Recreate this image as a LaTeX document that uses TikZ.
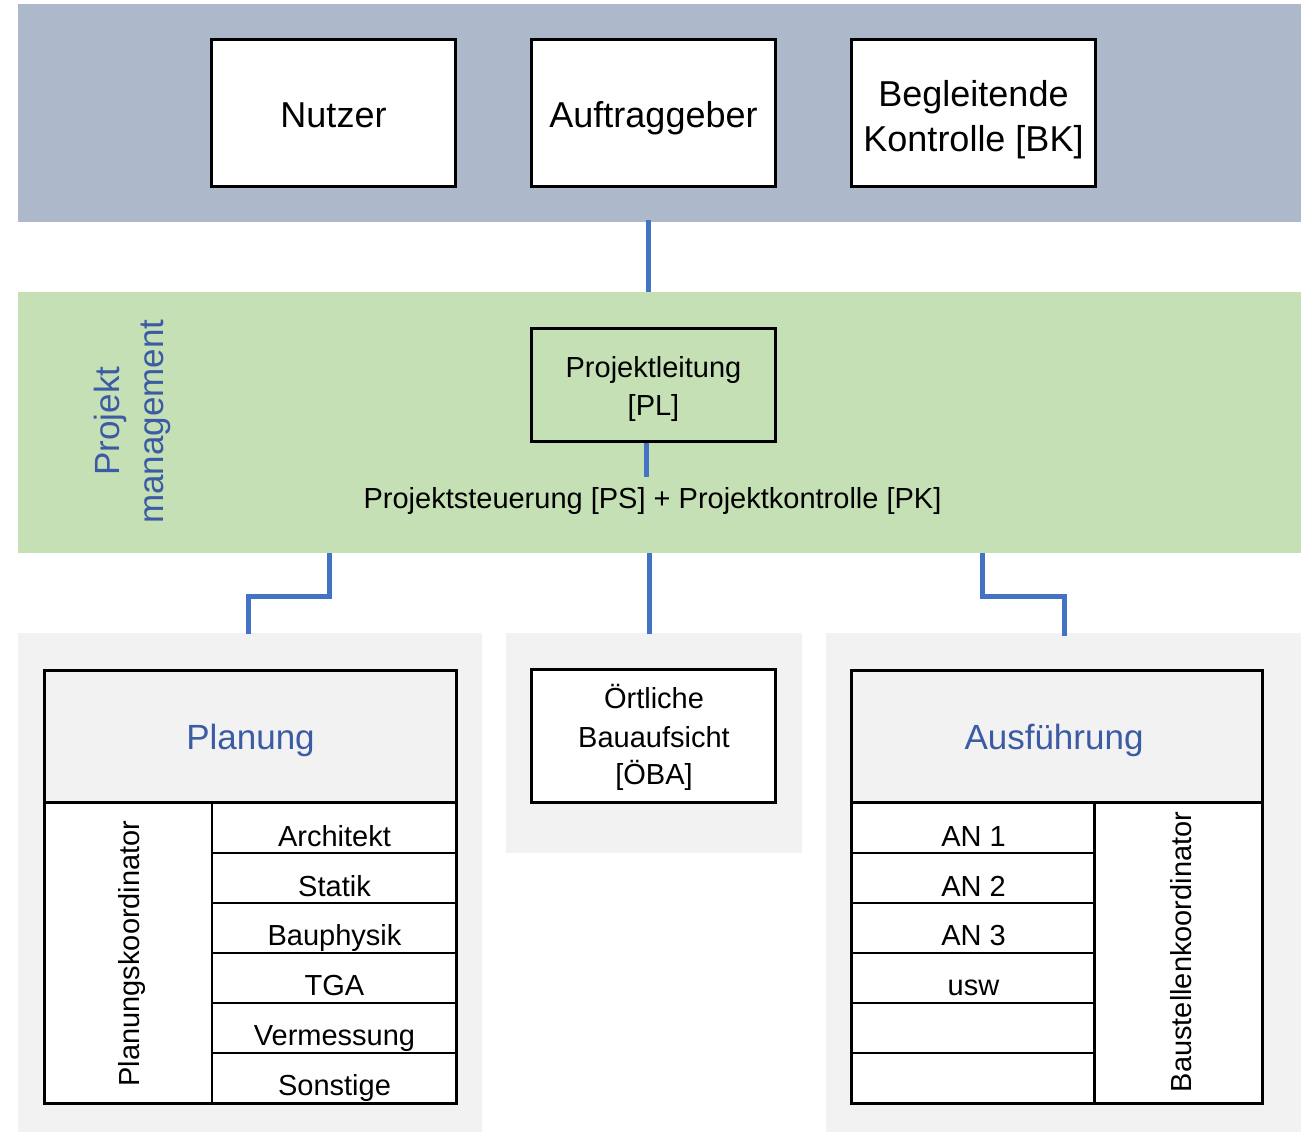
\documentclass[tikz,border=0pt]{standalone}
\usepackage{fontspec}
\setmainfont{Liberation Sans}
\definecolor{topband}{HTML}{ADB9CA}
\definecolor{pmband}{HTML}{C5E0B4}
\definecolor{panel}{HTML}{F2F2F2}
\definecolor{linkblue}{HTML}{4472C4}
\definecolor{headblue}{HTML}{3B5BA5}
\tikzset{
  band/.style={fill=#1, draw=none, inner sep=0pt, anchor=north west},
  partybox/.style={draw, line width=3pt, fill=white, minimum width=244pt, minimum height=146pt, inner sep=0pt},
  midbox/.style={draw, line width=3pt, minimum width=244pt, inner sep=0pt},
  headbox/.style={draw, line width=3pt, fill=panel, minimum height=132pt, inner sep=0pt},
  colbox/.style={draw, line width=3pt, fill=white, minimum width=168pt, minimum height=301pt, inner sep=0pt},
  rowbox/.style={draw, line width=2pt, fill=white, minimum height=50pt, inner sep=0pt},
  bigtext/.style={anchor=base, inner sep=0pt, font=\fontsize{36}{44}\selectfont},
  midtext/.style={anchor=base, inner sep=0pt, font=\fontsize{29}{35}\selectfont},
  headtext/.style={anchor=base, inner sep=0pt, text=headblue, font=\fontsize{35}{42}\selectfont},
  vtext/.style={rotate=90, anchor=base, inner sep=0pt, font=\fontsize{29}{35}\selectfont},
  link/.style={draw=linkblue, line width=5pt}
}
\begin{document}
\begin{tikzpicture}[x=1pt,y=-1pt]
\useasboundingbox (0,0) rectangle (1306,1132);
\fill[white] (0,0) rectangle (1306,1132);

% background bands and panels
\node[band=topband, minimum width=1283pt, minimum height=218pt] (client) at (18,4) {};
\node[band=pmband, minimum width=1283pt, minimum height=261pt] (pm) at (18,292) {};
\node[band=panel, minimum width=464pt, minimum height=499pt] (planpanel) at (18,633) {};
\node[band=panel, minimum width=296pt, minimum height=220pt] (obapanel) at (506,633) {};
\node[band=panel, minimum width=475pt, minimum height=499pt] (execpanel) at (826,633) {};

% client side
\node[partybox] (nutzer) at (333.5,113) {};
\node[partybox] (ag) at (653,113) {};
\node[partybox] (bk) at (973,113) {};
\node[bigtext] (nutzer-t) at (333.5,127) {Nutzer};
\node[bigtext] (ag-t) at (653.5,127) {Auftraggeber};
\node[bigtext] (bk-t1) at (973.5,106.5) {Begleitende};
\node[bigtext] (bk-t2) at (973.5,151.5) {Kontrolle [BK]};

% project management
\node[midbox, minimum height=113pt] (pl) at (653,384.5) {};
\node[midtext] (pl-t1) at (653.5,377) {Projektleitung};
\node[midtext] (pl-t2) at (653.5,415.5) {[PL]};
\node[midtext] (ps) at (652.5,508) {Projektsteuerung [PS] + Projektkontrolle [PK]};
\node[headtext, rotate=90] (pm-t1) at (119.5,421) {Projekt};
\node[headtext, rotate=90] (pm-t2) at (163.5,421.5) {management};

% local site supervision
\node[midbox, fill=white, minimum height=133pt] (oba) at (653,735.5) {};
\node[midtext] (oba-t1) at (654,708) {Örtliche};
\node[midtext] (oba-t2) at (654,747.5) {Bauaufsicht};
\node[midtext] (oba-t3) at (654,784) {[ÖBA]};

% planning table
\node[colbox] (pk) at (128,952.5) {};
\node[vtext] (pk-t) at (139,953.5) {Planungskoordinator};
\foreach \t [count=\i] in {Architekt,Statik,Bauphysik,TGA,Vermessung,Sonstige}{
  \node[rowbox, minimum width=244pt] (p\i) at (334,{777.5+50*\i}) {};
  \node[midtext] (pt\i) at (334.5,{796.8+49.7*\i}) {\t};
}
\draw[line width=3pt] (44,802) rectangle (456,1103);
\node[headbox, minimum width=412pt] (plan) at (250,736) {};
\node[headtext] (plan-t) at (250.5,749) {Planung};

% execution table
\node[colbox] (bsk) at (1178,952.5) {};
\node[vtext] (bsk-t) at (1191,952) {Baustellenkoordinator};
\foreach \t [count=\i] in {AN 1,AN 2,AN 3,usw,{},{}}{
  \node[rowbox, minimum width=243pt] (a\i) at (972.5,{777.5+50*\i}) {};
  \node[midtext] (at\i) at (973.5,{796.8+49.7*\i}) {\t};
}
\draw[line width=3pt] (851,802) rectangle (1262,1103);
\node[headbox, minimum width=411pt] (exec) at (1056.5,736) {};
\node[headtext] (exec-t) at (1054,749.5) {Ausführung};

% connectors
\coordinate (c0) at (648,220);
\coordinate (c1) at (648,292);
\coordinate (c2) at (646,477);
\coordinate (l0) at (329,553);
\coordinate (l1) at (248,634);
\coordinate (m0) at (649,553);
\coordinate (m1) at (649,634);
\coordinate (r0) at (982,553);
\coordinate (r1) at (1064,636);
\draw[link] (c0) -- (c1);
\draw[link] (pl.south -| c2) -- (c2);
\draw[link] (l0) -- (l0 |- 0,596) -- (l1 |- 0,596) -- (l1);
\draw[link] (m0) -- (m1);
\draw[link] (r0) -- (r0 |- 0,596) -- (r1 |- 0,596) -- (r1);
\end{tikzpicture}
\end{document}
